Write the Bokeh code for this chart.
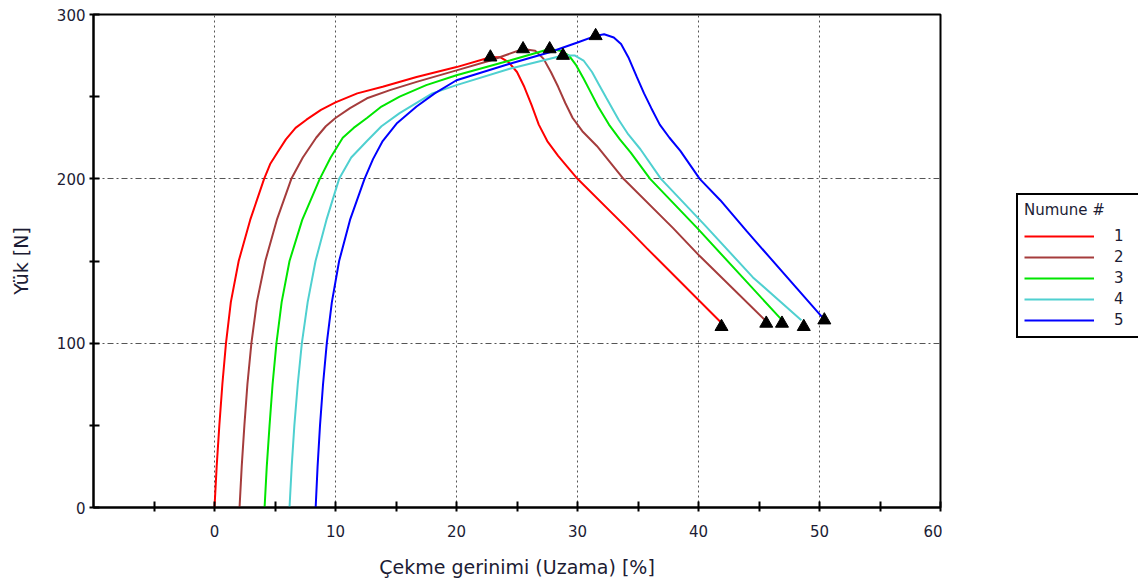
from bokeh.plotting import figure
from bokeh.layouts import row
from bokeh.models import Range1d, FixedTicker, Legend, LegendItem
from bokeh.embed import file_html
from bokeh.resources import INLINE

# ---- data ----
samples = ["1", "2", "3", "4", "5"]
colors = ["#ff0000", "#a53c3c", "#00e600", "#4fd0d0", "#0000ff"]

x1 = [0.0, 0.18, 0.4, 0.65, 0.95, 1.35, 2.0, 2.95, 4.1, 4.6, 5.2, 5.9, 6.7, 7.6, 8.8, 10.0, 11.8, 13.9, 16.7, 20.0, 22.8, 23.6, 24.3, 25.0, 25.6, 26.2, 26.8, 27.5, 28.4, 30.0, 34.1, 35.7, 41.8]
y1 = [0, 25, 50, 75, 100, 125, 150, 175, 200, 209, 216, 224, 231, 236, 242, 246.5, 252, 256, 262, 268, 274, 274, 271, 265, 256, 245, 233, 223, 214, 200, 170, 158, 113]

x2 = [2.07, 2.25, 2.47, 2.72, 3.05, 3.5, 4.2, 5.15, 6.35, 7.3, 8.4, 9.2, 10.0, 11.2, 12.6, 14.5, 16.7, 20.0, 22.8, 25.5, 26.5, 27.2, 27.8, 28.4, 29.0, 29.6, 30.4, 31.6, 33.8, 37.9, 40.1, 45.5]
y2 = [0, 25, 50, 75, 100, 125, 150, 175, 200, 213, 225, 232, 237, 243, 249, 254, 259, 266, 272, 279, 278, 273, 265, 256, 246, 237, 229, 220, 200, 170, 153, 114]

x3 = [4.14, 4.32, 4.55, 4.8, 5.12, 5.55, 6.2, 7.25, 8.7, 9.6, 10.6, 11.5, 12.6, 13.8, 15.3, 17.5, 20.0, 24.4, 27.7, 28.6, 29.3, 29.9, 30.5, 31.0, 31.7, 32.6, 33.5, 34.4, 36.0, 39.9, 46.9]
y3 = [0, 25, 50, 75, 100, 125, 150, 175, 200, 213, 225, 231, 237, 244, 250, 257, 263, 272, 279, 278, 275, 269, 261, 254, 244, 233, 224, 216, 200, 170, 114]

x4 = [6.2, 6.38, 6.6, 6.88, 7.22, 7.7, 8.35, 9.25, 10.3, 11.3, 12.6, 13.8, 15.3, 18.0, 20.0, 24.4, 28.8, 29.8, 30.5, 31.2, 31.8, 32.4, 33.4, 34.2, 35.2, 36.9, 40.5, 44.5, 48.5]
y4 = [0, 25, 50, 75, 100, 125, 150, 175, 200, 213, 223, 232, 240, 252, 257, 267, 275, 275, 272, 265, 257, 249, 236, 227, 218, 200, 172, 140, 114]

x5 = [8.36, 8.52, 8.72, 8.97, 9.28, 9.7, 10.3, 11.2, 12.4, 13.1, 13.9, 15.1, 16.7, 18.2, 20.0, 24.4, 27.7, 30.0, 31.5, 32.2, 33.0, 33.6, 34.2, 34.9, 35.5, 36.1, 36.8, 37.6, 38.5, 40.1, 41.8, 44.0, 50.2]
y5 = [0, 25, 50, 75, 100, 125, 150, 175, 200, 212, 223, 234, 244, 252, 260, 270, 277, 283, 287, 288, 286, 282, 274, 262, 252, 243, 233, 225, 217, 200, 187, 168, 116]

peak_x = [22.8, 25.5, 27.7, 28.8, 31.5]
peak_y = [274, 279, 279, 275, 287]
break_x = [41.9, 45.6, 46.9, 48.7, 50.4]
break_y = [110, 112, 112, 110, 114]

x_major = [0, 10, 20, 30, 40, 50, 60]
x_minor = [-5, 5, 15, 25, 35, 45, 55]
y_major = [0, 100, 200, 300]
y_minor = [50, 150, 250]
x_grid = [0, 10, 20, 30, 40, 50]
y_grid = [100, 200]

TEXT = "#1c1c34"
FONT = "DejaVu Sans"
H = 580

p = figure(frame_width=847, frame_height=493,
           x_range=Range1d(-10, 60), y_range=Range1d(0, 300),
           output_backend="svg", toolbar_location=None,
           min_border_left=93, min_border_top=14, min_border_bottom=H - 14 - 493,
           min_border_right=2)

p.background_fill_color = "white"
p.border_fill_color = "white"
p.outline_line_color = "black"
p.outline_line_width = 2

# grids
p.xgrid.ticker = FixedTicker(ticks=x_grid)
p.ygrid.ticker = FixedTicker(ticks=y_grid)
p.xgrid.grid_line_color = "#555555"
p.ygrid.grid_line_color = "#555555"
p.xgrid.grid_line_dash = "2 3"
p.ygrid.grid_line_dash = "6 3 2 3"
p.xgrid.grid_line_width = 1
p.ygrid.grid_line_width = 1

# axes
p.xaxis.ticker = FixedTicker(ticks=x_major, minor_ticks=x_minor)
p.yaxis.ticker = FixedTicker(ticks=y_major, minor_ticks=y_minor)
for ax in (p.xaxis[0], p.yaxis[0]):
    ax.axis_line_color = "black"
    ax.axis_line_width = 2
    ax.major_tick_line_color = "black"
    ax.minor_tick_line_color = "black"
    ax.major_tick_line_width = 2
    ax.minor_tick_line_width = 2
    ax.major_tick_in = 6
    ax.major_tick_out = 4
    ax.minor_tick_in = 6
    ax.minor_tick_out = 4
    ax.major_label_text_font = FONT
    ax.major_label_text_font_size = "15px"
    ax.major_label_text_color = TEXT
    ax.axis_label_text_font = FONT
    ax.axis_label_text_font_size = "19px"
    ax.axis_label_text_font_style = "normal"
    ax.axis_label_text_color = TEXT

p.xaxis.axis_label = "Çekme gerinimi (Uzama) [%]"
p.yaxis.axis_label = "Yük [N]"
p.xaxis.major_label_standoff = 13
p.xaxis.axis_label_standoff = 16
p.yaxis.major_label_standoff = 4
p.yaxis.axis_label_standoff = 22

xs = [x1, x2, x3, x4, x5]
ys = [y1, y2, y3, y4, y5]
for c, xx, yy in zip(colors, xs, ys):
    p.line(xx, yy, line_color=c, line_width=2)

p.scatter(peak_x, peak_y, marker="triangle", size=13, fill_color="black", line_color="black")
p.scatter(break_x, break_y, marker="triangle", size=13, fill_color="black", line_color="black")

# ---- legend panel (separate figure so it can sit beside the plot frame) ----
LW = 196
q = figure(width=LW, height=H, x_range=Range1d(0, 1), y_range=Range1d(0, 1),
           output_backend="svg", toolbar_location=None,
           min_border_left=0, min_border_right=0, min_border_top=0, min_border_bottom=0)
q.axis.visible = False
q.grid.visible = False
q.outline_line_color = None
q.background_fill_color = "white"
q.border_fill_color = "white"

items = []
for lab, c in zip(samples, colors):
    # legend-only renderer (no visible data)
    r = q.line(x=[float("nan")], y=[float("nan")], line_color=c, line_width=2)
    items.append(LegendItem(label=lab, renderers=[r]))

legend = Legend(items=items, title="Numune #", location=(74, 169))
legend.title_text_font = FONT
legend.title_text_font_size = "15px"
legend.title_text_font_style = "normal"
legend.title_text_color = TEXT
legend.title_standoff = 7
legend.label_text_font = FONT
legend.label_text_font_size = "15px"
legend.label_text_color = TEXT
legend.glyph_width = 70
legend.glyph_height = 20
legend.label_height = 20
legend.label_standoff = 20
legend.label_width = 19
legend.spacing = 1
legend.padding = 6
legend.margin = 0
legend.border_line_color = "black"
legend.border_line_alpha = 1.0
legend.border_line_width = 2
legend.background_fill_color = "white"
legend.background_fill_alpha = 1
q.add_layout(legend, "center")

layout = row(p, q, spacing=0)
open("out.html", "w").write(file_html(layout, INLINE))
